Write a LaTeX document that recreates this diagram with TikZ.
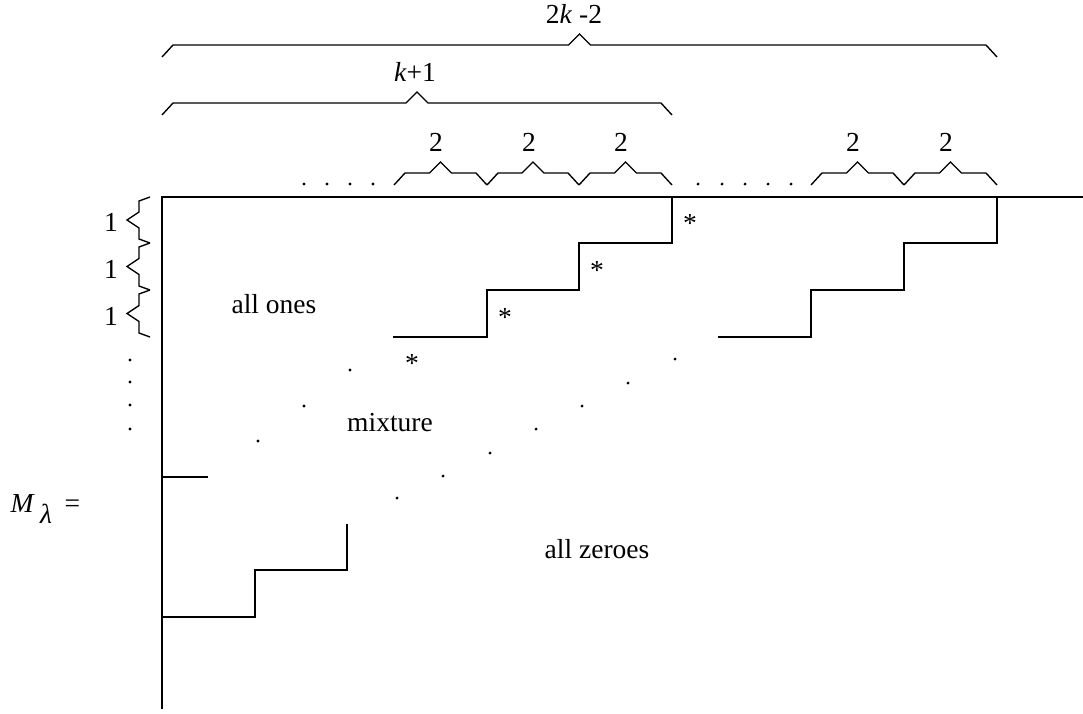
\documentclass[tikz,border=0pt]{standalone}
\usepackage{fontspec}
\setmainfont{Liberation Serif}
\tikzset{
  rule/.style={line width=0.5pt},
  zig/.style={line width=0.5pt, line join=miter},
  lbl/.style={inner sep=0pt, anchor=base},
}

\begin{document}
\begin{tikzpicture}[x=0.3636pt, y=-0.3636pt]
  \useasboundingbox (0,0) rectangle (1083,713);
  % frame and staircases
  \draw[rule] (1083,197) -- (162,197) -- (162,709);
  \draw[rule] (162,477) -- (208,477);
  \draw[rule] (393,337) -- (487,337) -- (487,290) -- (579,290) -- (579,243) -- (672,243) -- (672,197);
  \draw[rule] (718,337) -- (811,337) -- (811,290) -- (904,290) -- (904,243) -- (997,243) -- (997,197);
  \draw[rule] (162,617) -- (255,617) -- (255,570) -- (347,570) -- (347,524);
  % braces over the columns
  \foreach \a/\b/\y in {162/997/45, 162/672/103, 394/487/173, 487/579/173, 579/672/173, 811/904/173, 904/997/173}
    \draw[zig] (\a,\y+12) -- (\a+11,\y) -- ({(\a+\b)/2-11},\y) -- ({(\a+\b)/2},\y-11)
      -- ({(\a+\b)/2+11},\y) -- (\b-11,\y) -- (\b,\y+12);
  % braces beside the rows
  \foreach \a/\b in {197/243, 243/290, 290/337}
    \draw[zig] (150,\a) -- (139,\a+4) -- (139,{(\a+\b)/2-8}) -- (127,{(\a+\b)/2})
      -- (139,{(\a+\b)/2+8}) -- (139,\b-4) -- (150,\b);
  % labels
  \node[lbl] (sumall) at (574,23) {2\textit{k} -2};
  \node[lbl] (sumk) at (415,81) {\textit{k}+1};
  \foreach \x [count=\i] in {436,529,621,853,946}
    \node[lbl] (two\i) at (\x,151) {2};
  \foreach \y [count=\i] in {231,278,325}
    \node[lbl] (one\i) at (111,\y) {1};
  \foreach \x/\y [count=\i] in {690/232, 597/279, 505/326, 412/372}
    \node[lbl] (star\i) at (\x,\y) {*};
  \node[lbl] (ones) at (274,313) {all ones};
  \node[lbl] (mix) at (390,431) {mixture};
  \node[lbl] (zeros) at (597,558) {all zeroes};
  \node[lbl, anchor=base west] (mlam) at (10,512)
    {\textit{M}\kern2pt\raisebox{-4.2pt}{\textit{λ}}\kern4.5pt=};
  % dots
  \foreach \x in {304,327,350,373,698,722,745,768,791}
    \fill (\x,184) circle (0.55pt);
  \foreach \y in {360,382,405,429}
    \fill (130,\y) circle (0.55pt);
  \foreach \x/\y in {258/441, 304/406, 350/370, 397/498, 443/476, 490/453, 536/429, 582/406, 628/383, 675/359}
    \fill (\x,\y) circle (0.55pt);
\end{tikzpicture}
\end{document}
